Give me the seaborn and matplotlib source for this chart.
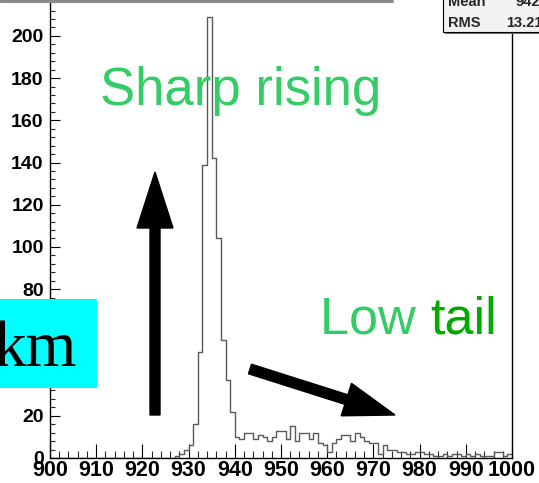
import numpy as np
import pandas as pd
import seaborn as sns
import matplotlib
matplotlib.use("Agg")
import matplotlib.pyplot as plt
from matplotlib import transforms as mtransforms
from matplotlib.patches import Rectangle, FancyArrow
from matplotlib.lines import Line2D
from matplotlib.ticker import MultipleLocator

# ---------------- data ----------------
bin_low = 900
bin_high = 1000
counts = (
    [0] * 26 +
    [0, 1, 2, 4, 6, 16, 50, 139, 209, 142, 104, 56, 37, 22] +   # 926-939
    [10, 9, 12, 12, 9, 11, 10, 8, 10, 13] +                        # 940-949
    [13, 9, 15, 8, 12, 12, 9, 12, 7, 6] +                          # 950-959
    [3, 7, 9, 11, 11, 8, 12, 10, 8, 7] +                           # 960-969
    [7, 2, 6, 4, 4, 3, 3, 2, 2, 3] +                               # 970-979
    [3, 2, 2, 1, 1, 2, 1, 2, 2, 1] +                               # 980-989
    [2, 1, 2, 1, 1, 1, 3, 3, 1, 2]                                 # 990-999
)
x_ticks = [900, 910, 920, 930, 940, 950, 960, 970, 980, 990, 1000]
y_ticks = [0, 20, 40, 60, 80, 100, 120, 140, 160, 180, 200]
stats_names = ["Mean", "RMS"]
stats_values = ["942.3", "13.21"]
note_texts = ["Sharp rising", "Low ", "tail", "km"]

centers = [bin_low + i + 0.5 for i in range(len(counts))]
df = pd.DataFrame({"x": centers, "w": counts})

# ---------------- figure ----------------
sns.set_style("ticks")
plt.rcParams["font.family"] = ["Liberation Sans", "DejaVu Sans"]

W, H = 539, 483
fig = plt.figure(figsize=(W / 100, H / 100), dpi=100)
fig.patch.set_facecolor("white")
# pixel transform (origin top-left like the reference image)
pxT = mtransforms.Affine2D().scale(1 / W, -1 / H).translate(0, 1) + fig.transFigure

ax = fig.add_axes([50 / W, 25 / H, 462 / W, 458 / H])
sns.histplot(data=df, x="x", weights="w", binwidth=1, binrange=(bin_low, bin_high),
             element="step", fill=False, color="#5a5a5a", linewidth=1.0, ax=ax)
ax.set_xlabel("")
ax.set_ylabel("")
ax.set_xlim(bin_low, bin_high)
ax.set_ylim(0, 217)
ax.set_xticks(x_ticks)
ax.set_yticks(y_ticks)
ax.xaxis.set_minor_locator(MultipleLocator(2))
ax.yaxis.set_minor_locator(MultipleLocator(4))
ax.tick_params(axis="x", which="major", direction="in", length=10, width=0.8,
               labelsize=15.5, pad=1.5, colors="black")
ax.tick_params(axis="x", which="minor", direction="in", length=5, width=0.8)
ax.tick_params(axis="y", which="major", direction="in", length=7.5, width=0.8,
               labelsize=14, pad=4.5, colors="black")
ax.tick_params(axis="y", which="minor", direction="in", length=3.8, width=0.8)
for lab in ax.get_xticklabels() + ax.get_yticklabels():
    lab.set_fontweight("bold")
for s in ["left", "bottom", "right"]:
    ax.spines[s].set_visible(True)
    ax.spines[s].set_linewidth(1.0)
    ax.spines[s].set_color("black")
ax.spines["top"].set_visible(False)
ax.set_facecolor("white")

# top gray border fragment
fig.add_artist(Line2D([0, 392], [1, 1], transform=pxT, color="#8a8a8a", lw=2.2))

# stats box (partially cut)
fig.add_artist(Rectangle((445, -6), 110, 40, transform=pxT, facecolor="#6e6e6e",
                         edgecolor="none", zorder=5))
fig.add_artist(Rectangle((443, -8), 110, 40, transform=pxT, facecolor="#f2f2f2",
                         edgecolor="black", lw=0.8, zorder=6))
fig.text(448, 6, stats_names[0], transform=pxT, fontsize=10.5, fontweight="bold",
         va="baseline", ha="left", zorder=7)
fig.text(515, 6, stats_values[0], transform=pxT, fontsize=10.5, fontweight="bold",
         va="baseline", ha="left", zorder=7)
fig.text(448, 27, stats_names[1], transform=pxT, fontsize=10.5, fontweight="bold",
         va="baseline", ha="left", zorder=7)
fig.text(506, 27, stats_values[1], transform=pxT, fontsize=10.5, fontweight="bold",
         va="baseline", ha="left", zorder=7)

# annotations
fig.text(100, 105, note_texts[0], transform=pxT, fontsize=38, color="#33cc66",
         va="baseline", ha="left", zorder=8)
t1 = fig.text(320, 334, note_texts[1], transform=pxT, fontsize=37.5, color="#33cc66",
              va="baseline", ha="left", zorder=8)
fig.canvas.draw()
bb = t1.get_window_extent()
x_after = bb.x1 * W / fig.bbox.width
fig.text(x_after, 334, note_texts[2], transform=pxT, fontsize=37.5, color="#00aa00",
         va="baseline", ha="left", zorder=8)

# cyan box with km
fig.add_artist(Rectangle((0, 299), 97, 89, transform=pxT, facecolor="#00ffff",
                         edgecolor="none", zorder=8))
fig.text(77, 366, note_texts[3], transform=pxT, fontsize=47, color="black",
         family=["Liberation Serif", "DejaVu Serif"], va="baseline", ha="right", zorder=9)

# arrows
fig.add_artist(FancyArrow(155, 415, 0, -243, width=10, head_width=36, head_length=56,
                          length_includes_head=True, transform=pxT, color="black",
                          zorder=9))
fig.add_artist(FancyArrow(250, 369, 145, 46, width=10, head_width=34, head_length=51,
                          length_includes_head=True, transform=pxT, color="black",
                          zorder=9))

fig.savefig("out.png", dpi=100, facecolor="white")
